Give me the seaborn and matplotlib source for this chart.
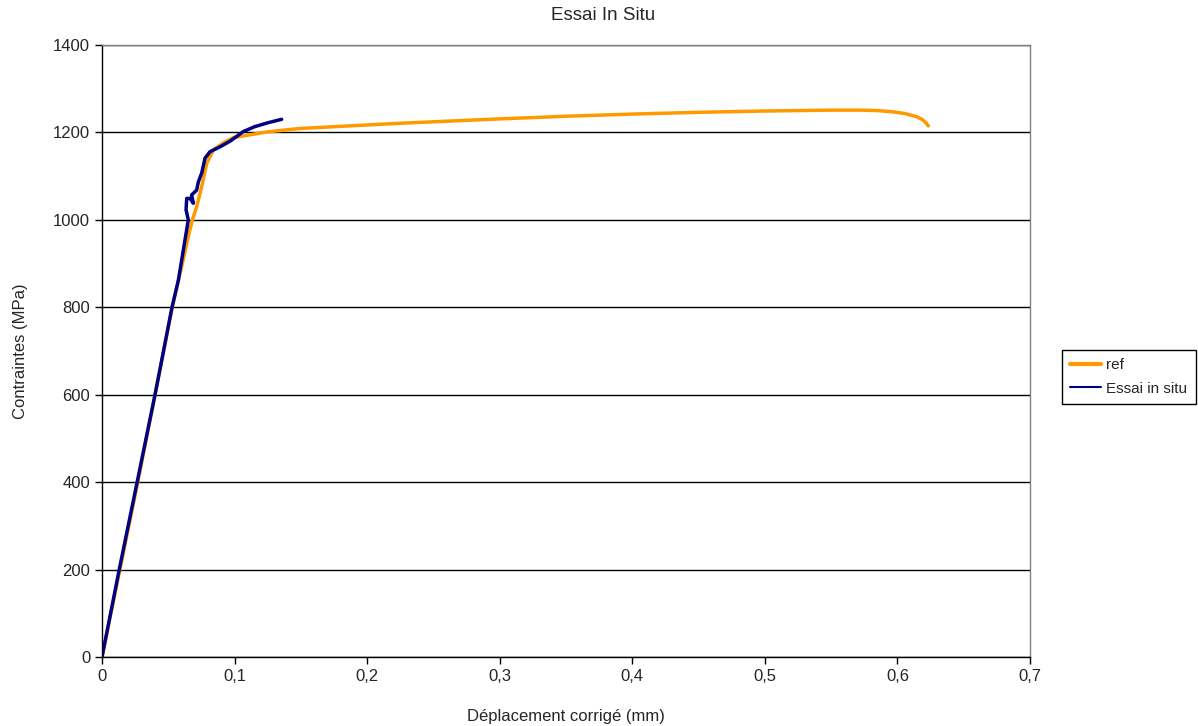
import matplotlib
matplotlib.use("Agg")
import matplotlib.pyplot as plt
import seaborn as sns
import pandas as pd
from matplotlib.ticker import FuncFormatter, MultipleLocator
from matplotlib.lines import Line2D

# ---- data ----
ref_x = [0, 0.0135, 0.027, 0.040, 0.053, 0.0606, 0.0665, 0.0689, 0.0714, 0.0752,
         0.079, 0.084, 0.0915, 0.099, 0.124, 0.149, 0.187, 0.225, 0.30, 0.35,
         0.40, 0.45, 0.50, 0.55, 0.572, 0.585, 0.597, 0.606, 0.6145, 0.619, 0.6215, 0.6233]
ref_y = [0, 200, 400, 600, 800, 900, 980, 1007, 1030, 1076,
         1129, 1160, 1176, 1188, 1201, 1209, 1215, 1221, 1231, 1237,
         1242, 1246, 1249, 1251, 1251, 1250, 1247, 1243, 1236, 1229, 1222, 1215]

insitu_x = [0, 0.013, 0.0265, 0.040, 0.0528, 0.0576, 0.0626, 0.0651, 0.0634, 0.0639,
            0.0664, 0.0689, 0.0676, 0.0714, 0.0727, 0.0752, 0.0777, 0.0815, 0.089,
            0.0966, 0.1066, 0.115, 0.125, 0.1355]
insitu_y = [0, 200, 400, 600, 800, 862, 954, 1000, 1023, 1049,
            1049, 1038, 1057, 1068, 1087, 1107, 1141, 1156, 1167,
            1180, 1202, 1213, 1222, 1230]

series_names = ["ref", "Essai in situ"]
colors = ["#FF9900", "#000080"]

df = pd.concat([
    pd.DataFrame({"x": ref_x, "y": ref_y, "serie": series_names[0]}),
    pd.DataFrame({"x": insitu_x, "y": insitu_y, "serie": series_names[1]}),
], ignore_index=True)

sns.set_style("white")
plt.rcParams["font.family"] = ["Liberation Sans", "DejaVu Sans"]

fig = plt.figure(figsize=(11.98, 7.26), dpi=100)
ax = fig.add_axes([102/1198, 1-657/726, (1030-102)/1198, (657-45)/726])

sns.lineplot(data=df, x="x", y="y", hue="serie", palette=dict(zip(series_names, colors)),
             sort=False, estimator=None, linewidth=2.5, ax=ax, legend=False)

ax.set_xlim(0, 0.7)
ax.set_ylim(0, 1400)
ax.xaxis.set_major_locator(MultipleLocator(0.1))
ax.yaxis.set_major_locator(MultipleLocator(200))
ax.xaxis.set_major_formatter(FuncFormatter(lambda v, p: ("%g" % round(v, 3)).replace(".", ",")))
ax.yaxis.set_major_formatter(FuncFormatter(lambda v, p: "%d" % v))
ax.tick_params(axis="both", which="major", direction="out", length=5, width=1,
               color="black", labelsize=12, left=True, bottom=True)
ax.yaxis.grid(True, color="black", linewidth=1)
ax.xaxis.grid(False)
ax.set_axisbelow(True)
for s in ["left", "bottom"]:
    ax.spines[s].set_color("black")
    ax.spines[s].set_linewidth(1)
for s in ["top", "right"]:
    ax.spines[s].set_color("#808080")
    ax.spines[s].set_linewidth(1)

ax.set_xlabel("Déplacement corrigé (mm)", fontsize=12, labelpad=18)
ax.set_ylabel("Contraintes (MPa)", fontsize=12, labelpad=18)
fig.suptitle("Essai In Situ", fontsize=13.5, x=603/1198, y=1-7/726, va="top")

handles = [Line2D([], [], color=colors[0], linewidth=3),
           Line2D([], [], color=colors[1], linewidth=1.5)]
leg = fig.legend(handles, series_names, loc="upper left",
                 bbox_to_anchor=(1062/1198, 1-350/726), fontsize=11,
                 frameon=True, fancybox=False, edgecolor="black", framealpha=1,
                 handlelength=2.0, handletextpad=0.35, borderpad=0.55, labelspacing=0.6,
                 borderaxespad=0)
leg.get_frame().set_linewidth(1)

fig.savefig("out.png", dpi=100)
